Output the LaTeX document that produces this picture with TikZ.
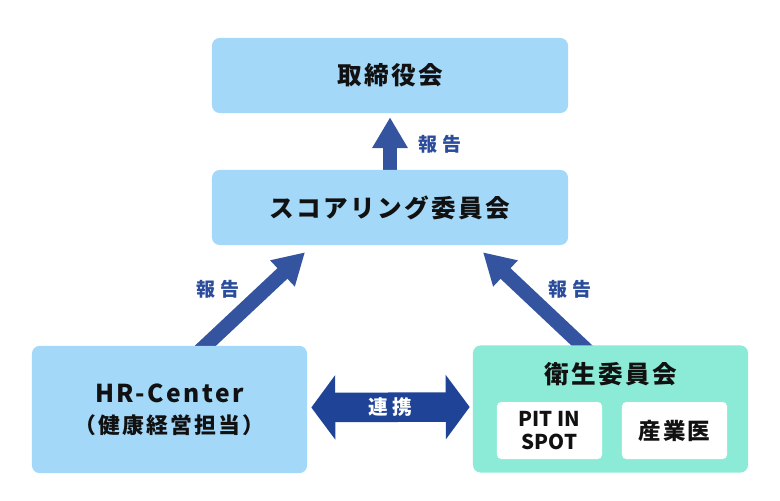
\documentclass[tikz,border=0pt]{standalone}
\usepackage{fontspec}
\newfontfamily\jp{Noto Sans CJK JP}[LetterSpace=10]
\newfontfamily\jpw{Noto Sans CJK JP}[LetterSpace=22]
\newfontfamily\jpn{Noto Sans CJK JP}
\usetikzlibrary{arrows.meta,positioning,calc,backgrounds}
\definecolor{boxblue}{HTML}{A3D8F9}
\definecolor{mint}{HTML}{8CEBD6}
\definecolor{arrowblue}{HTML}{3454A0}
\definecolor{linkblue}{HTML}{1F4397}
\definecolor{labelblue}{HTML}{2B4C9B}
\definecolor{ink}{HTML}{111111}

\begin{document}
\begin{tikzpicture}[x=0.025cm, y=-0.025cm,
  box/.style={rounded corners=5.5pt, fill=boxblue, inner sep=0pt, minimum width=8.9cm, minimum height=1.875cm},
  lowbox/.style={rounded corners=5.5pt, inner sep=0pt, minimum width=6.875cm, minimum height=3.18cm},
  inbox/.style={rounded corners=3pt, fill=white, inner sep=0pt, minimum width=2.625cm, minimum height=1.425cm, align=center, text=ink},
  title/.style={font={\jp\bfseries\fontsize{17.5}{21}\selectfont}, text=ink},
  rep/.style={font={\jpw\bfseries\fontsize{13.5}{16}\selectfont}, text=labelblue},
  report/.style={draw=arrowblue, line width=10.3pt, -{Triangle[length=22pt,width=24pt]}},
  link/.style={draw=linkblue, line width=21pt, {Triangle[length=17pt,width=45pt]}-{Triangle[length=17pt,width=45pt]}}
]
\useasboundingbox (0,0) rectangle (780,500);

% boxes
\node[box, title] (board) at (390,75.5) {取締役会};
\node[box, title] (scoring) at (390,207.5) {スコアリング委員会};

\node[lowbox, fill=boxblue, align=center, text=ink, font={\jp\bfseries\fontsize{15.5}{22}\selectfont}] (hr) at (169.5,409.5)
  {{\fontsize{17.5}{22}\selectfont HR-Center}\\（健康経営担当）};

\node[lowbox, fill=mint] (eisei) at (610.5,409) {};
\node[title] (eiseititle) at (610.5,374) {衛生委員会};
\node[inbox, font={\jpn\bfseries\fontsize{14.5}{17}\selectfont}] (pit) at (549.5,430.5) {PIT IN\\SPOT};
\node[inbox, font={\jp\bfseries\fontsize{16}{19}\selectfont}] (doctor) at (674.5,430.5) {産業医};

% arrows
\begin{scope}[on background layer]
\draw[report] ($(scoring.north)+(0,4)$) -- ($(board.south)+(0,4)$);
\draw[report] ($(hr.north)+(27.5,8)$) -- ($(scoring.south)+(-85,7)$);
\draw[report] ($(eisei.north)+(-20.5,8)$) -- ($(scoring.south)+(93,7)$);
\end{scope}

\draw[link] ($(hr.east)+(4,-2)$) -- node[text=white, font={\jpw\bfseries\fontsize{14}{16}\selectfont}] (linklbl) {連携} ($(eisei.west)+(-3,-2)$);

\node[rep] (rep1) at (440,144) {報告};
\node[rep] (rep2) at (218,289) {報告};
\node[rep] (rep3) at (570,289) {報告};

\end{tikzpicture}
\end{document}
